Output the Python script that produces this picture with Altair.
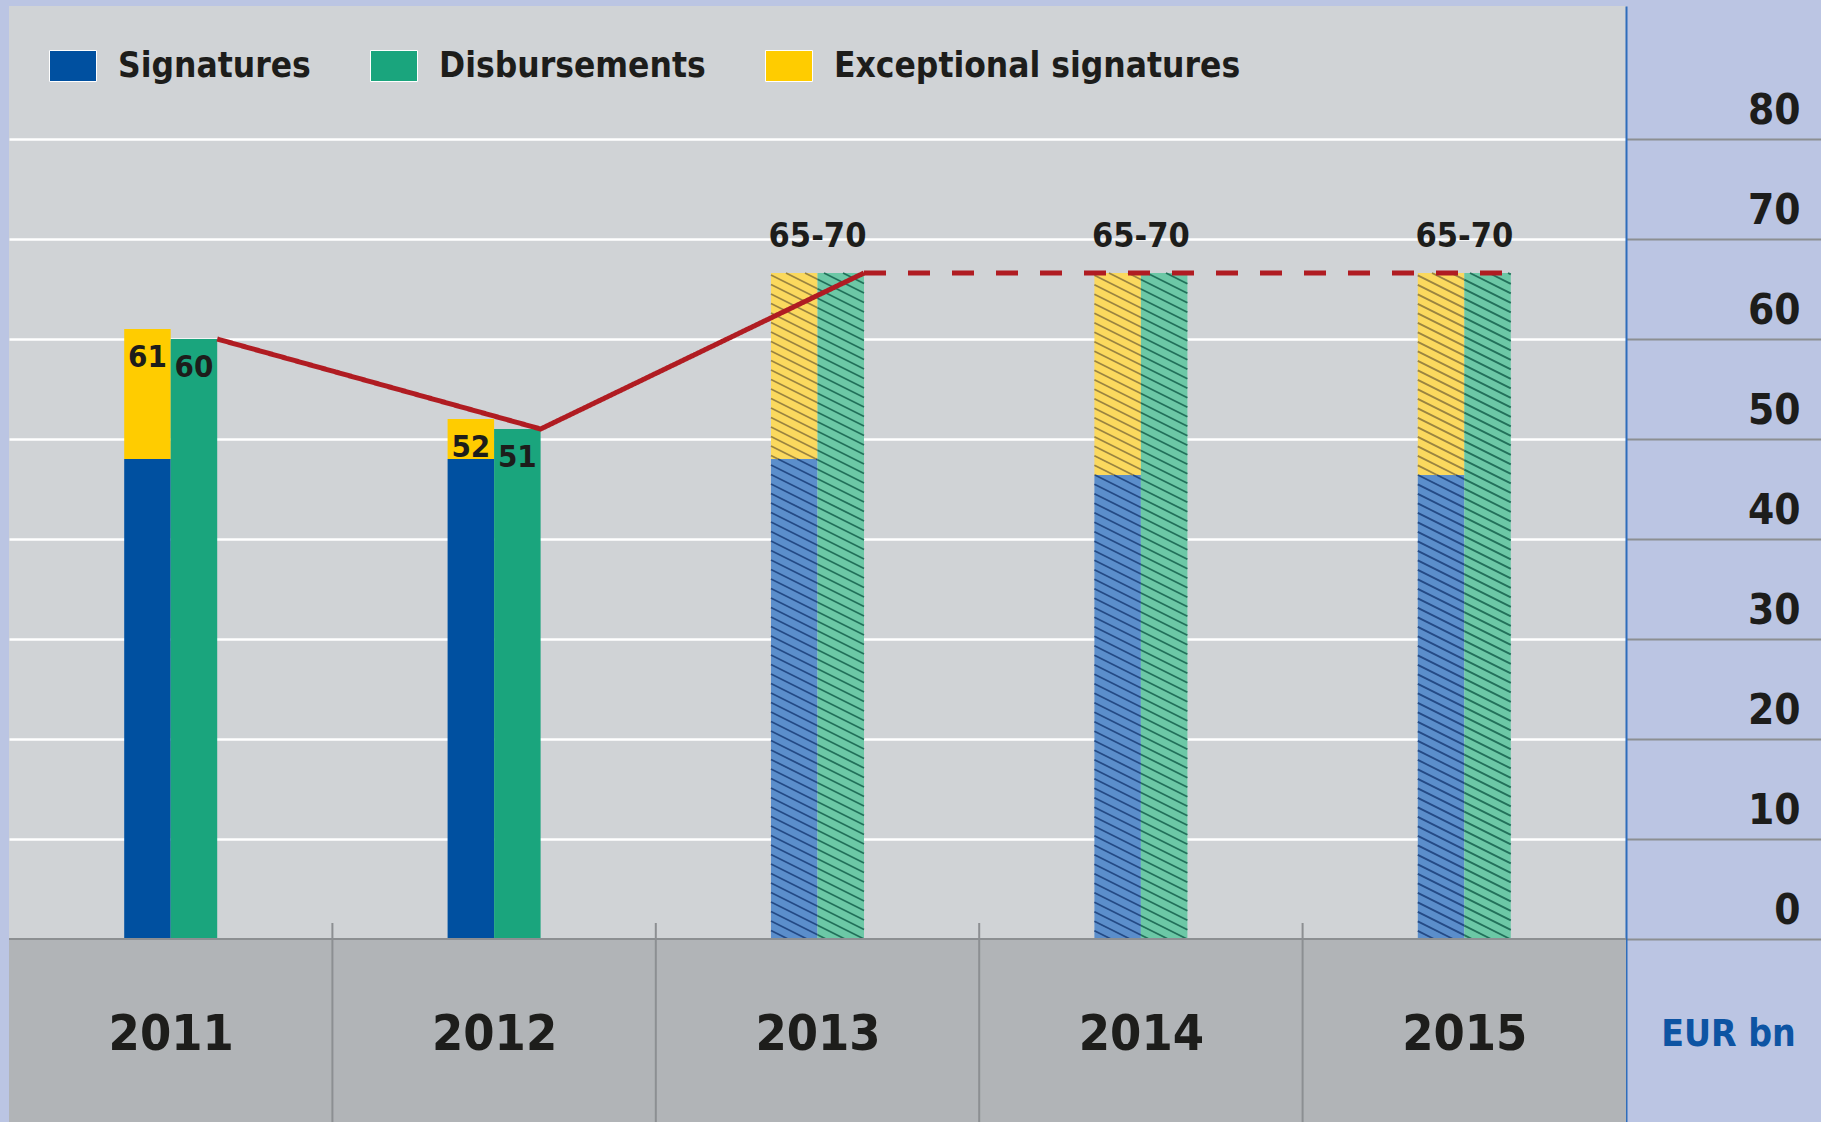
import math
import altair as alt
import pandas as pd

# ---------------- data ----------------
years = ["2011", "2012", "2013", "2014", "2015"]
signatures = [48.0, 48.0, 48.0, 46.4, 46.4]
signatures_with_exceptional = [61.0, 52.0, 66.6, 66.6, 66.6]
disbursements = [60.0, 51.0, 66.6, 66.6, 66.6]
planned = [False, False, True, True, True]
top_labels = ["61", "52", "65-70", "65-70", "65-70"]
disbursement_labels = ["60", "51", "", "", ""]
y_ticks = [0, 10, 20, 30, 40, 50, 60, 70, 80]
series = ["Signatures", "Disbursements", "Exceptional signatures"]
unit_label = "EUR bn"

# ---------------- style / layout ----------------
W, H = 1617, 1116
Y_MAX, Y_MIN = 93.3, -18.3
TICK_UP = 1.6
BAR_PX = 46.5
N = len(years)
PXU = W / N                      # px per x unit
PXV = H / (Y_MAX - Y_MIN)        # px per value unit
HALF = BAR_PX / PXU
FONT = "'Liberation Sans Narrow', 'DejaVu Sans Condensed', 'Arial Narrow', sans-serif"
INK = "#1d1d1b"
PLAN = " (planned)"
solid_colors = ["#0050a0", "#1aa57d", "#ffcc00"]
planned_colors = ["#5b8ecb", "#6cc8a6", "#fbd95e"]
hatch_colors = ["#244a85", "#22705a", "#9a8440"]
RECT_PATH = "M-1,-0.66L1,-0.66L1,0.66L-1,0.66Z"

# ---------------- tables built from the arrays ----------------
bars = []
for i in range(N):
    c = i + 0.5
    sfx = PLAN if planned[i] else ""
    bars.append(dict(key=series[0] + sfx, x0=c - HALF, x1=c, lo=0.0, hi=signatures[i]))
    bars.append(dict(key=series[2] + sfx, x0=c - HALF, x1=c, lo=signatures[i],
                     hi=signatures_with_exceptional[i]))
    bars.append(dict(key=series[1] + sfx, x0=c, x1=c + HALF, lo=0.0, hi=disbursements[i]))
bars_df = pd.DataFrame(bars)

# diagonal hatching of the planned bars (clipped to each bar)
k_slope = 0.5 * PXU / PXV
gap = 9.5 / PXV
hatch = []
for b in bars:
    if not b["key"].endswith(PLAN):
        continue
    kmin = math.floor((b["lo"] + k_slope * b["x0"]) / gap)
    kmax = math.ceil((b["hi"] + k_slope * b["x1"]) / gap)
    for k in range(kmin, kmax + 1):
        K = k * gap
        xa = max(b["x0"], (K - b["hi"]) / k_slope)
        xb = min(b["x1"], (K - b["lo"]) / k_slope)
        if xb - xa > 1e-6:
            hatch.append(dict(key=b["key"], hx0=xa, hx1=xb,
                              hy0=K - k_slope * xa, hy1=K - k_slope * xb))
hatch_df = pd.DataFrame(hatch)

line_rows = []
for i in range(N):
    x = i + 0.5 + HALF
    if not planned[i] or (i > 0 and not planned[i - 1]):
        line_rows.append(dict(x=x, v=disbursements[i], seg="actual"))
    if planned[i]:
        line_rows.append(dict(x=x, v=disbursements[i], seg="planned"))
line_df = pd.DataFrame(line_rows)

inner = []
top = []
for i in range(N):
    c = i + 0.5
    if planned[i]:
        top.append(dict(x=c, v=max(signatures_with_exceptional[i], disbursements[i]), t=top_labels[i]))
    else:
        inner.append(dict(x=c - HALF / 2, v=signatures_with_exceptional[i], t=top_labels[i]))
        inner.append(dict(x=c + HALF / 2, v=disbursements[i], t=disbursement_labels[i]))
inner_df = pd.DataFrame(inner)
top_df = pd.DataFrame(top)

one = pd.DataFrame({"d": [0]})
seps_df = pd.DataFrame({"b": list(range(1, N))})

X_SCALE = alt.Scale(domain=[0, N], nice=False, zero=False)
Y_SCALE = alt.Scale(domain=[Y_MIN, Y_MAX], nice=False, zero=False)

keys = series + [s + PLAN for s in series]

bar_layer = alt.Chart(bars_df).mark_rect().encode(
    x=alt.X("x0:Q", scale=X_SCALE, axis=alt.Axis(
        values=[i + 0.5 for i in range(N)],
        labelExpr="[" + ",".join("'%s'" % y for y in years) + "][floor(datum.value)]",
        ticks=False, domain=False, grid=False, title=None, zindex=2,
        labelPadding=-88, labelBaseline="middle", labelFont=FONT, labelFontSize=50,
        labelFontWeight="bold", labelColor=INK, labelFlush=False, labelOverlap=False)),
    x2="x1:Q",
    y=alt.Y("lo:Q", scale=Y_SCALE, axis=alt.Axis(
        orient="right", values=y_ticks, title=unit_label, titleAngle=0,
        titleX=102, titleY=1028, titleAlign="center", titleBaseline="middle",
        titleFont=FONT, titleFontSize=37, titleFontWeight="bold", titleColor="#0d54a3",
        grid=True, gridColor="white", gridWidth=2.5,
        domain=True, domainColor="#2f6dbb", domainWidth=2,
        ticks=True, tickSize=195, tickColor="#8c8f92", tickWidth=2,
        labelFont=FONT, labelFontSize=42, labelFontWeight="bold", labelColor=INK,
        labelAlign="right", labelBaseline="alphabetic", labelPadding=-21, labelOffset=-16,
        labelOverlap=False, labelFlush=False)),
    y2="hi:Q",
    color=alt.Color("key:N", scale=alt.Scale(domain=keys, range=solid_colors + planned_colors),
                    legend=alt.Legend(
                        orient="none", legendX=40, legendY=36, direction="horizontal",
                        title=None, values=series, symbolType=RECT_PATH, symbolSize=2209,
                        symbolStrokeColor="white", symbolStrokeWidth=1, symbolOpacity=1,
                        labelFont=FONT, labelFontSize=35, labelFontWeight="bold", labelLimit=0,
                        labelColor=INK, labelOffset=21, columnPadding=57, padding=0)),
)

band = alt.Chart(one).mark_rect(color="#b1b4b7").encode(
    x=alt.XDatum(0), x2=alt.X2Datum(N),
    y=alt.YDatum(0), y2=alt.Y2Datum(Y_MIN),
)

seps = alt.Chart(seps_df).mark_rule(color="#8c8f92", strokeWidth=2).encode(
    x=alt.X("b:Q"),
    y=alt.YDatum(TICK_UP), y2=alt.Y2Datum(Y_MIN),
)

zero = alt.Chart(one).mark_rule(color="#8c8f92", strokeWidth=2).encode(
    x=alt.XDatum(0), x2=alt.X2Datum(N), y=alt.YDatum(0),
)

hatch_layer = alt.Chart(hatch_df).mark_rule(strokeWidth=1.8).encode(
    x=alt.X("hx0:Q"), x2="hx1:Q",
    y=alt.Y("hy0:Q"), y2="hy1:Q",
    stroke=alt.Stroke("key:N", scale=alt.Scale(domain=[s + PLAN for s in series], range=hatch_colors),
                      legend=None),
)

line_layer = alt.Chart(line_df).mark_line(color="#b01c22", strokeWidth=5, strokeCap="butt").encode(
    x=alt.X("x:Q"), y=alt.Y("v:Q"),
    strokeDash=alt.StrokeDash("seg:N", scale=alt.Scale(domain=["actual", "planned"],
                                                       range=[[1, 0], [22, 22]]), legend=None),
)

inner_text = alt.Chart(inner_df).mark_text(
    font=FONT, fontWeight="bold", fontSize=31, baseline="top", dy=14, color=INK
).encode(x=alt.X("x:Q"), y=alt.Y("v:Q"), text="t:N")

top_text = alt.Chart(top_df).mark_text(
    font=FONT, fontWeight="bold", fontSize=34, baseline="bottom", dy=-19, color=INK
).encode(x=alt.X("x:Q"), y=alt.Y("v:Q"), text="t:N")

chart = alt.layer(
    bar_layer, band, seps, hatch_layer, zero, line_layer, inner_text, top_text
).properties(
    width=W, height=H,
    padding={"left": 9, "top": 6, "right": 195, "bottom": 0},
    autosize=alt.AutoSizeParams(type="none"),
    background="#bbc5e3",
).configure_view(fill="#d0d3d6", stroke=None)

chart.save("out.html", embed_options={"renderer": "svg", "actions": False})
